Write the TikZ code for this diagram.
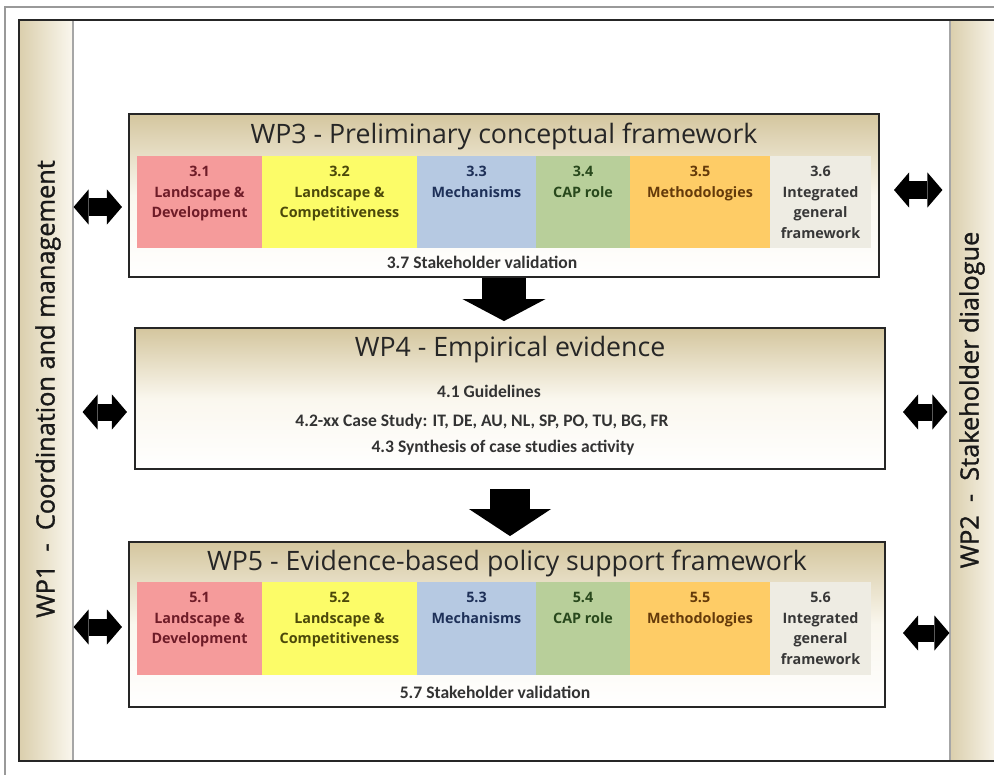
\documentclass[tikz,border=0pt]{standalone}
\usepackage{fontspec}
\setmainfont{Carlito}
\newfontfamily\titlefont{Open Sans}
\newfontfamily\sidefont[FakeBold=1.2]{Open Sans}
\usetikzlibrary{arrows.meta}
\usetikzlibrary{positioning}

\definecolor{wptan}{RGB}{212,198,158}
\definecolor{wpcream}{RGB}{250,247,238}
\definecolor{cpink}{RGB}{245,155,155}
\definecolor{cyellow}{RGB}{252,252,104}
\definecolor{cblue}{RGB}{182,201,226}
\definecolor{cgreen}{RGB}{184,207,154}
\definecolor{corange}{RGB}{254,204,102}
\definecolor{cgrey}{RGB}{238,236,227}
\definecolor{tpink}{RGB}{110,28,40}
\definecolor{tyellow}{RGB}{75,72,10}
\definecolor{tblue}{RGB}{30,48,88}
\definecolor{tgreen}{RGB}{40,72,28}
\definecolor{torange}{RGB}{100,58,10}
\definecolor{tgrey}{RGB}{55,55,55}

\tikzset{
  wpbox/.style={draw=black!85, line width=1.3pt, top color=wptan, bottom color=white, middle color=wpcream, inner sep=0pt},
  sidepanel/.style={draw=black!35, line width=0.8pt, left color=wptan!85, right color=wpcream, inner sep=0pt},
  wptitle/.style={font=\titlefont\fontsize{19}{22}\selectfont, text=black!85, inner sep=0pt},
  sidetext/.style={font=\sidefont\fontsize{18}{20}\selectfont, text=black!90, rotate=90, inner sep=0pt},
  celltext/.style={font=\titlefont\bfseries\fontsize{10.2}{14.6}\selectfont, align=center, anchor=north, inner sep=0pt},
  tasktext/.style={font=\bfseries\fontsize{12.5}{15}\selectfont, text=black!80, inner sep=0pt},
  dblarrow/.style={line width=0.425cm, {Triangle[length=0.375cm,width=0.875cm,line width=0pt]}-{Triangle[length=0.375cm,width=0.875cm,line width=0pt]}},
  downarrow/.style={line width=1.1cm, -{Triangle[length=0.55cm,width=2.075cm,line width=0pt]}},
  downarrowb/.style={line width=1cm, -{Triangle[length=0.675cm,width=2.05cm,line width=0pt]}},
}

\begin{document}
\begin{tikzpicture}[x=0.025cm,y=-0.025cm]
\useasboundingbox (0,0) rectangle (994,775);
\clip (0,0) rectangle (994,775);

% frames and side panels
\draw[black!40,line width=1pt] (5,780) -- (5,7) -- (1000,7);
\node[sidepanel, minimum width=1.35cm, minimum height=18.525cm] (wp1) at (46,390.5) {};
\node[sidepanel, minimum width=1.25cm, minimum height=18.525cm] (wp2) at (975,390.5) {};
\draw[black!85,line width=1.4pt] (1000,20) -- (19,20) -- (19,761) -- (1000,761);
\node[sidetext] (wp1txt) at (48,389) {WP1~ - ~Coordination and management};
\node[sidetext] (wp2txt) at (972,400) {WP2~ - ~Stakeholder dialogue};

% WP3
\node[wpbox, minimum width=18.75cm, minimum height=4.075cm] (wp3) at (504,195.5) {};
\node[wptitle] (t3) at (504,136) {WP3 - Preliminary conceptual framework};
\fill[cpink] (137,156) rectangle (262,248);
\fill[cyellow] (262,156) rectangle (417,248);
\fill[cblue] (417,156) rectangle (536,248);
\fill[cgreen] (536,156) rectangle (630,248);
\fill[corange] (630,156) rectangle (770,248);
\fill[cgrey] (770,156) rectangle (871,248);
\node[celltext,text=tpink] (c31) at (199.5,166) {3.1\\Landscape \&\\Development};
\node[celltext,text=tyellow] (c32) at (339.5,166) {3.2\\Landscape \&\\Competitiveness};
\node[celltext,text=tblue] (c33) at (476.5,166) {3.3\\Mechanisms};
\node[celltext,text=tgreen] (c34) at (583,166) {3.4\\CAP role};
\node[celltext,text=torange] (c35) at (700,166) {3.5\\Methodologies};
\node[celltext,text=tgrey] (c36) at (820.5,166) {3.6\\Integrated\\general\\framework};
\node[tasktext] (s37) at (482,262) {3.7 Stakeholder validation};

% WP4
\node[wpbox, minimum width=18.75cm, minimum height=3.525cm] (wp4) at (510,398.5) {};
\node[wptitle] (t4) at (510,350) {WP4 - Empirical evidence};
\node[tasktext] (g41) at (489,391) {4.1 Guidelines};
\node[tasktext] (g42) at (482,422) {4.2-xx Case Study: IT, DE, AU, NL, SP, PO, TU, BG, FR};
\node[tasktext] (g43) at (503,448) {4.3 Synthesis of case studies activity};

% WP5
\node[wpbox, minimum width=18.9cm, minimum height=4.125cm] (wp5) at (507,624.5) {};
\node[wptitle] (t5) at (507,563) {WP5 - Evidence-based policy support framework};
\fill[cpink] (137,582) rectangle (262,675);
\fill[cyellow] (262,582) rectangle (417,675);
\fill[cblue] (417,582) rectangle (536,675);
\fill[cgreen] (536,582) rectangle (630,675);
\fill[corange] (630,582) rectangle (770,675);
\fill[cgrey] (770,582) rectangle (871,675);
\node[celltext,text=tpink] (c51) at (199.5,592) {5.1\\Landscape \&\\Development};
\node[celltext,text=tyellow] (c52) at (339.5,592) {5.2\\Landscape \&\\Competitiveness};
\node[celltext,text=tblue] (c53) at (476.5,592) {5.3\\Mechanisms};
\node[celltext,text=tgreen] (c54) at (583,592) {5.4\\CAP role};
\node[celltext,text=torange] (c55) at (700,592) {5.5\\Methodologies};
\node[celltext,text=tgrey] (c56) at (820.5,592) {5.6\\Integrated\\general\\framework};
\node[tasktext] (s57) at (495,692) {5.7 Stakeholder validation};

% flow between work packages
\draw[downarrow, shorten >=0.15cm] (wp3.south) -- (wp3.south |- wp4.north);
\draw[downarrowb, shorten <=0.475cm, shorten >=0.125cm] (wp4.south) -- (wp4.south |- wp5.north);

% links to WP1 and WP2
\coordinate (y3l) at (100,207);
\coordinate (y3r) at (900,190);
\coordinate (y4) at (500,412);
\coordinate (y5l) at (100,627);
\coordinate (y5r) at (900,633);
\draw[dblarrow, shorten >=0.15cm] (wp1.east |- y3l) -- (wp3.west |- y3l);
\draw[dblarrow, shorten <=0.225cm, shorten >=0.175cm] (wp1.east |- y4) -- (wp4.west |- y4);
\draw[dblarrow, shorten >=0.15cm] (wp1.east |- y5l) -- (wp5.west |- y5l);
\draw[dblarrow, shorten <=0.35cm, shorten >=0.175cm] (wp3.east |- y3r) -- (wp2.west |- y3r);
\draw[dblarrow, shorten <=0.425cm, shorten >=0.05cm] (wp4.east |- y4) -- (wp2.west |- y4);
\draw[dblarrow, shorten <=0.425cm] (wp5.east |- y5r) -- (wp2.west |- y5r);

\end{tikzpicture}
\end{document}
